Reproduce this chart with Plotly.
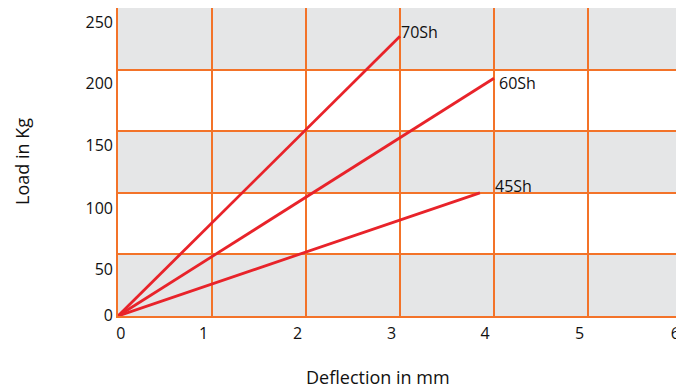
import plotly.graph_objects as go

# ---- data ----
series_names = ["70Sh", "60Sh", "45Sh"]
deflection_end = [3.0, 4.0, 3.85]      # mm
load_end = [227, 193, 100]             # kg

x_ticks = [0, 1, 2, 3, 4, 5, 6]
y_ticks = [0, 50, 100, 150, 200, 250]
x_tick_labels = ["0", "1", "2", "3", "4", "5", "6"]
y_tick_labels = ["0", "50", "100", "150", "200", "250"]
# label positions as drawn (slightly offset from grid lines in the original)
x_label_pos = [0.03, 0.91, 1.91, 2.91, 3.905, 4.91, 5.93]
y_label_pos = [0.8, 38.1, 87.7, 138.8, 189.1, 238.6]

ORANGE = "#F37329"
RED = "#E8232A"
GRAY = "#E5E6E7"
TXT = "#111111"
FONT = "Open Sans"

X_RANGE = [0, 5.936]
Y_RANGE = [0, 250]

fig = go.Figure()

for name, xe, ye in zip(series_names, deflection_end, load_end):
    fig.add_trace(go.Scatter(x=[0, xe], y=[0, ye], mode="lines",
                             line=dict(color=RED, width=2.8),
                             name=name, showlegend=False, hoverinfo="skip"))

# label-only overlay axes
fig.add_trace(go.Scatter(x=[None], y=[None], xaxis="x2", yaxis="y2",
                         showlegend=False, hoverinfo="skip"))

# alternating gray bands
for i in range(0, len(y_ticks) - 1):
    if i % 2 == 0:
        fig.add_shape(type="rect", xref="paper", yref="y", x0=0, x1=1,
                      y0=y_ticks[i], y1=y_ticks[i + 1], fillcolor=GRAY,
                      line_width=0, layer="below")

# series labels
label_shift = {"70Sh": (-1, 4), "60Sh": (3, -5), "45Sh": (13, 7)}
for name, xe, ye in zip(series_names, deflection_end, load_end):
    dx, dy = label_shift[name]
    fig.add_annotation(x=xe, y=ye, text=name, showarrow=False,
                       xanchor="left", yanchor="middle", xshift=dx, yshift=dy,
                       font=dict(family=FONT, size=16, color=TXT))

fig.add_annotation(text="Load in Kg", xref="paper", yref="paper", x=0, y=0.5,
                   xshift=-96, textangle=-90, showarrow=False,
                   xanchor="center", yanchor="middle",
                   font=dict(family=FONT, size=18, color=TXT))
fig.add_annotation(text="Deflection in mm", xref="paper", yref="paper",
                   x=(378 - 118) / 558, y=0, yshift=-61, showarrow=False,
                   xanchor="center", yanchor="middle",
                   font=dict(family=FONT, size=18, color=TXT))

fig.update_layout(
    width=676, height=389,
    margin=dict(l=118, r=0, t=8, b=73, pad=0),
    paper_bgcolor="white", plot_bgcolor="white",
    xaxis=dict(range=X_RANGE, tickvals=x_ticks, showticklabels=False,
               showgrid=True, gridcolor=ORANGE, gridwidth=2, automargin=False,
               zeroline=False, showline=True, linecolor=ORANGE, linewidth=2,
               ticks="", fixedrange=True),
    yaxis=dict(range=Y_RANGE, tickvals=y_ticks, showticklabels=False,
               showgrid=True, gridcolor=ORANGE, gridwidth=2, automargin=False,
               zeroline=False, showline=True, linecolor=ORANGE, linewidth=2,
               ticks="", fixedrange=True),
    xaxis2=dict(range=X_RANGE, overlaying="x", anchor="y2", side="bottom",
                tickvals=x_label_pos, ticktext=x_tick_labels, automargin=False,
                showgrid=False, zeroline=False, showline=False, ticks="",
                ticklabelstandoff=6, ticklabeloverflow="allow",
                tickfont=dict(family=FONT, size=16, color=TXT)),
    yaxis2=dict(range=Y_RANGE, overlaying="y", anchor="x2", side="left",
                tickvals=y_label_pos, ticktext=y_tick_labels, automargin=False,
                showgrid=False, zeroline=False, showline=False, ticks="",
                ticklabelstandoff=4,
                tickfont=dict(family=FONT, size=16, color=TXT)),
)

fig.write_html(
    "out.html",
    config={"displayModeBar": False},
    post_script="document.body.style.margin='0';document.body.style.overflow='hidden';",
)
